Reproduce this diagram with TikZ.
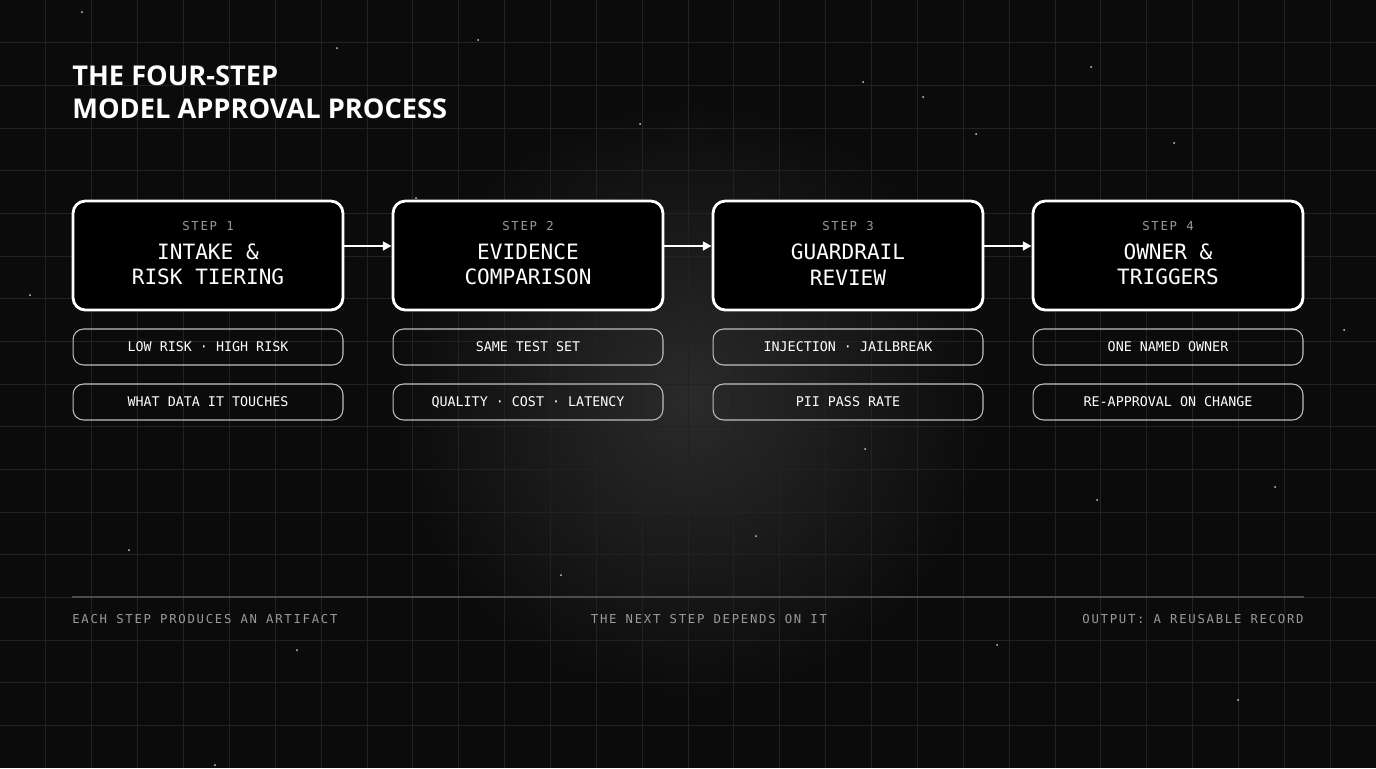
\documentclass[tikz,border=0pt]{standalone}
\usepackage{fontspec}
\setmainfont{Open Sans}
\newfontfamily\monofont{DejaVu Sans Mono}
\newfontfamily\spacedmono[LetterSpace=14]{DejaVu Sans Mono}
\usetikzlibrary{arrows.meta,positioning}
\definecolor{bgcol}{HTML}{0B0B0B}
\definecolor{gridcol}{HTML}{222222}
\definecolor{labelgray}{HTML}{9A9A9A}
\begin{document}
\begin{tikzpicture}[x=0.02cm,y=-0.02cm,
    stepbox/.style={draw=white, line width=1.6pt, rounded corners=7pt, fill=black,
      minimum width=5.4cm, minimum height=2.18cm, inner sep=0pt, align=center, text=white},
    subbox/.style={draw=white!75!black, line width=0.6pt, rounded corners=6pt,
      minimum width=5.4cm, minimum height=0.72cm, inner sep=0pt, text=white,
      font=\monofont\fontsize{7.6}{9}\selectfont},
    flow/.style={-{Triangle[length=5pt,width=5pt]}, white, line width=1.2pt},
    footnote/.style={text=labelgray, font=\spacedmono\fontsize{7}{8}\selectfont, inner sep=0pt}]
  \fill[bgcol] (0,0) rectangle (1376,768);
  \useasboundingbox (0,0) rectangle (1376,768);
  % glow
  \shade[inner color=white!13!bgcol, outer color=bgcol] (690,400) circle[radius=300];
  % grid
  \foreach \i in {1,...,29} \draw[gridcol, line width=0.5pt] ({\i*45.87},0) -- ({\i*45.87},768);
  \foreach \j in {1,...,17} \draw[gridcol, line width=0.5pt] (0,{\j*42.67}) -- (1376,{\j*42.67});
  % stars
  \foreach \sx/\sy in {82/12,337/48,478/40,863/82,923/97,976/134,1091/67,1174/143,
      129/550,561/575,756/536,865/449,1275/487,1344/330,30/295,640/124,416/198,583/216,
      1060/255,1238/700,215/765,997/645,1097/500,297/650}
    \fill[white!80!black] (\sx,\sy) circle[radius=1];
  % title
  \node (title) [anchor=north west, align=left, text=white, inner sep=0pt,
    font=\bfseries\fontsize{15.5}{19}\selectfont] at (72,65) {THE FOUR-STEP\\MODEL APPROVAL PROCESS};

  % steps
  \foreach \n/\lab/\sa/\sb [count=\k] in {
      1/{INTAKE \&\\RISK TIERING}/{LOW RISK · HIGH RISK}/{WHAT DATA IT TOUCHES},
      2/{EVIDENCE\\COMPARISON}/{SAME TEST SET}/{QUALITY · COST · LATENCY},
      3/{GUARDRAIL\\REVIEW}/{INJECTION · JAILBREAK}/{PII PASS RATE},
      4/{OWNER \&\\TRIGGERS}/{ONE NAMED OWNER}/{RE-APPROVAL ON CHANGE}} {
    \node (step\k) [stepbox] at ({208+(\k-1)*320},255.5) {};
    \node (steplab\k) [text=labelgray, font=\spacedmono\fontsize{7}{8}\selectfont]
      at ({208+(\k-1)*320},226) {STEP \n};
    \node (stepname\k) [text=white, align=center,
      font=\monofont\fontsize{12}{14.5}\selectfont] at ({208+(\k-1)*320},264.5) {\lab};
    \node (subA\k) [subbox] at ({208+(\k-1)*320},347) {\sa};
    \node (subB\k) [subbox] at ({208+(\k-1)*320},402) {\sb};
  }
  \draw[flow] ([yshift=0.19cm]step1.east) -- ([yshift=0.19cm]step2.west);
  \draw[flow] ([yshift=0.19cm]step2.east) -- ([yshift=0.19cm]step3.west);
  \draw[flow] ([yshift=0.19cm]step3.east) -- ([yshift=0.19cm]step4.west);

  % footer
  \coordinate (footL) at (72,597);
  \coordinate (footR) at (1304,597);
  \draw[white!30!black, line width=0.6pt] (footL) -- (footR);
  \node (footA) [footnote, anchor=west] at (72,619) {EACH STEP PRODUCES AN ARTIFACT};
  \node (footB) [footnote] at (709,619) {THE NEXT STEP DEPENDS ON IT};
  \node (footC) [footnote, anchor=east] at (1304,619) {OUTPUT: A REUSABLE RECORD};
\end{tikzpicture}
\end{document}
